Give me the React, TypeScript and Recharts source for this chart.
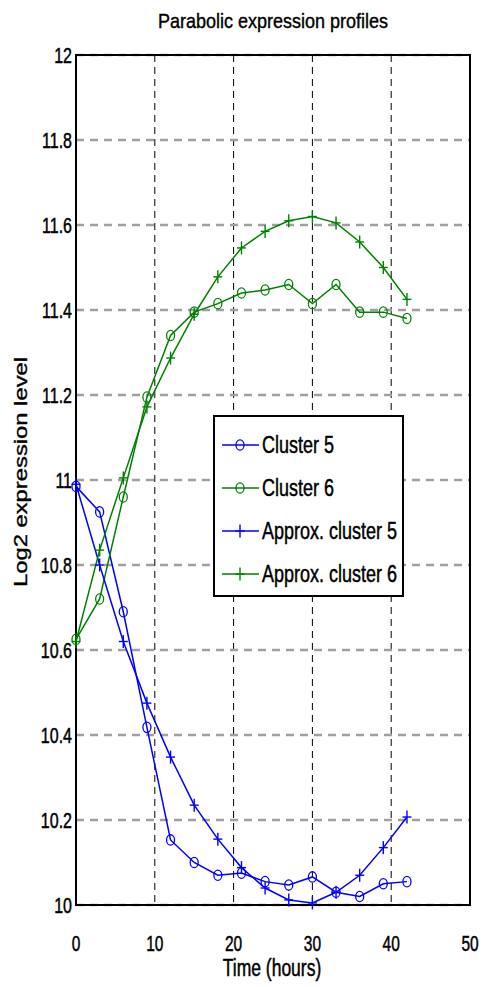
import React from "react";
import {
  LineChart,
  CartesianGrid,
  XAxis,
  YAxis,
  Line,
  Legend,
  ReferenceArea,
  Customized,
} from "recharts";

const time = [0, 3, 6, 9, 12, 15, 18, 21, 24, 27, 30, 33, 36, 39, 42];
const cluster5 = [10.985, 10.925, 10.69, 10.418, 10.153, 10.1, 10.07, 10.075, 10.055, 10.047, 10.066, 10.03, 10.02, 10.05, 10.055];
const cluster6 = [10.625, 10.72, 10.96, 11.195, 11.34, 11.395, 11.415, 11.44, 11.447, 11.46, 11.415, 11.46, 11.395, 11.395, 11.38];
const approx5 = [10.99, 10.8, 10.62, 10.475, 10.348, 10.235, 10.155, 10.088, 10.04, 10.012, 10.005, 10.03, 10.07, 10.135, 10.207];
const approx6 = [10.62, 10.835, 11.005, 11.172, 11.287, 11.39, 11.478, 11.546, 11.585, 11.61, 11.62, 11.605, 11.56, 11.5, 11.425];

const xTicks = [0, 10, 20, 30, 40, 50];
const yTicks = [10, 10.2, 10.4, 10.6, 10.8, 11, 11.2, 11.4, 11.6, 11.8, 12];

const seriesNames = ["Cluster 5", "Cluster 6", "Approx. cluster 5", "Approx. cluster 6"];

const BLUE = "#0000ff";
const GREEN = "#008000";
const FONT = "'Liberation Sans', Arial, Helvetica, sans-serif";

const data = time.map((t, i) => ({
  t,
  c5: cluster5[i],
  c6: cluster6[i],
  a5: approx5[i],
  a6: approx6[i],
}));

const circleDot = (color: string) => (props: any) => (
  <ellipse
    key={`c-${props.index}`}
    cx={props.cx}
    cy={props.cy}
    rx={4}
    ry={5.2}
    fill="none"
    stroke={color}
    strokeWidth={1.3}
  />
);

const plusDot = (color: string) => (props: any) => (
  <g key={`p-${props.index}`} stroke={color} strokeWidth={1.4}>
    <line x1={props.cx - 4.5} y1={props.cy} x2={props.cx + 4.5} y2={props.cy} />
    <line x1={props.cx} y1={props.cy - 6.5} x2={props.cx} y2={props.cy + 6.5} />
  </g>
);

// slight outline to mimic the heavier look of the original text
const heavy = { stroke: "#000", strokeWidth: 0.35 };

const XTick = (props: any) => {
  const { x, y, payload } = props;
  return (
    <text
      transform={`translate(${x},${y + 38}) scale(1,1.4)`}
      textAnchor="middle"
      fontFamily={FONT}
      fontSize={15.5}
      fill="#000"
      {...heavy}
    >
      {payload.value}
    </text>
  );
};

const YTick = (props: any) => {
  const { y, payload } = props;
  return (
    <text
      transform={`translate(72,${y + 8}) scale(1,1.35)`}
      textAnchor="end"
      fontFamily={FONT}
      fontSize={16}
      fill="#000"
      {...heavy}
    >
      {parseFloat(Number(payload.value).toFixed(1))}
    </text>
  );
};

const Texts = () => (
  <g fontFamily={FONT} fill="#000">
    <text transform="translate(273,28) scale(1,1.15)" textAnchor="middle" fontSize={18} {...heavy}>
      Parabolic expression profiles
    </text>
    <text transform="translate(272,976) scale(1,1.35)" textAnchor="middle" fontSize={17.5} {...heavy}>
      Time (hours)
    </text>
    <text transform="translate(27,472) scale(1,1.36) rotate(-90)" textAnchor="middle" fontSize={17.5} {...heavy}>
      Log2 expression level
    </text>
  </g>
);

const legendItems = [
  { name: seriesNames[0], color: BLUE, marker: "o" },
  { name: seriesNames[1], color: GREEN, marker: "o" },
  { name: seriesNames[2], color: BLUE, marker: "+" },
  { name: seriesNames[3], color: GREEN, marker: "+" },
];

const renderLegend = () => (
  <div
    style={{
      width: 187,
      height: 178,
      border: "2px solid #000",
      background: "#fff",
      position: "relative",
      fontFamily: FONT,
    }}
  >
    {legendItems.map((it, i) => (
      <div
        key={it.name}
        style={{ position: "absolute", left: 5, top: 28 + i * 43 - 15, height: 30, display: "flex", alignItems: "center" }}
      >
        <svg width={40} height={30}>
          <line x1={2} y1={15} x2={39} y2={15} stroke={it.color} strokeWidth={1.5} />
          {it.marker === "o" ? (
            <ellipse cx={20} cy={15} rx={4} ry={5.2} fill="none" stroke={it.color} strokeWidth={1.3} />
          ) : (
            <g stroke={it.color} strokeWidth={1.4}>
              <line x1={15.5} y1={15} x2={24.5} y2={15} />
              <line x1={20} y1={8.5} x2={20} y2={21.5} />
            </g>
          )}
        </svg>
        <span
          style={{
            fontSize: 18,
            color: "#000",
            marginLeft: 2,
            display: "inline-block",
            transform: "scaleY(1.35)",
            whiteSpace: "nowrap",
            WebkitTextStroke: "0.35px #000",
          }}
        >
          {it.name}
        </span>
      </div>
    ))}
  </div>
);

export default function App() {
  return (
    <div style={{ position: "absolute", left: 0, top: 0, width: 481, height: 987, background: "#fff" }}>
      <LineChart
        width={481}
        height={987}
        data={data}
        margin={{ top: 55, right: 11, bottom: 0, left: 0 }}
      >
        <CartesianGrid horizontal={false} stroke="#000" strokeDasharray="7 5" strokeWidth={1} />
        <CartesianGrid vertical={false} stroke="#a0a0a0" strokeDasharray="8 6" strokeWidth={2.5} />
        <XAxis
          dataKey="t"
          type="number"
          domain={[0, 50]}
          ticks={xTicks}
          height={82}
          tick={<XTick />}
          tickLine={false}
          axisLine={false}
          interval={0}
        />
        <YAxis
          type="number"
          domain={[10, 12]}
          ticks={yTicks}
          width={76}
          tick={<YTick />}
          tickLine={false}
          axisLine={false}
          interval={0}
        />
        <ReferenceArea x1={0} x2={50} y1={10} y2={12} fill="none" stroke="#000" strokeWidth={2} />
        <Line dataKey="c5" name={seriesNames[0]} stroke={BLUE} strokeWidth={1.5} dot={circleDot(BLUE)} isAnimationActive={false} />
        <Line dataKey="c6" name={seriesNames[1]} stroke={GREEN} strokeWidth={1.5} dot={circleDot(GREEN)} isAnimationActive={false} />
        <Line dataKey="a5" name={seriesNames[2]} stroke={BLUE} strokeWidth={1.5} dot={plusDot(BLUE)} isAnimationActive={false} />
        <Line dataKey="a6" name={seriesNames[3]} stroke={GREEN} strokeWidth={1.5} dot={plusDot(GREEN)} isAnimationActive={false} />
        <Legend
          layout="vertical"
          align="center"
          verticalAlign="middle"
          content={renderLegend}
          wrapperStyle={{ position: "absolute", left: 213, top: 415, width: 191, height: 182 }}
        />
        <Customized component={Texts} />
      </LineChart>
    </div>
  );
}
